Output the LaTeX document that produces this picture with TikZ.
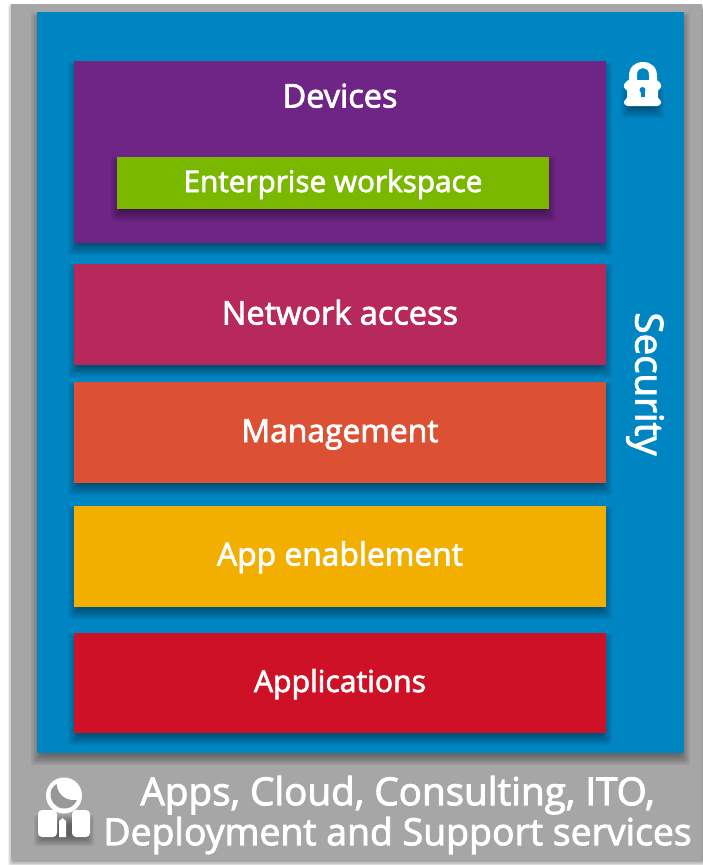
\documentclass[tikz,border=0pt]{standalone}
\usepackage{fontspec}
\setmainfont[FakeBold=2.4]{Open Sans}
\definecolor{cgray}{HTML}{A6A6A6}
\definecolor{cgrayd}{HTML}{989898}
\definecolor{cblue}{HTML}{0085C3}
\definecolor{cpurple}{HTML}{6E2585}
\definecolor{cgreen}{HTML}{7AB800}
\definecolor{ccrim}{HTML}{B7295A}
\definecolor{corange}{HTML}{DC5034}
\definecolor{cyellow}{HTML}{F2AF00}
\definecolor{cred}{HTML}{CE1126}
\tikzset{
  block/.style={inner sep=0pt,outer sep=0pt,text=white,align=center},
  blocklabel/.style={block,text height=22pt,text depth=7pt},
  softlayer/.style={fill=black,fill opacity=0.055,draw=none,rounded corners=2pt},
  iconwhite/.style={fill=white,draw=none},
}
% soft shadow: #1..#4 = x0,y0,x1,y1 ; #5 = drop and spread
\newcommand{\softshadow}[5]{%
  \foreach \k in {0,...,8}{%
    \pgfmathsetmacro{\e}{#5*(1-\k/4)}%
    \fill[softlayer] (#1-\e,#2-\e+#5) rectangle (#3+\e,#4+\e+#5);
  }}
\newcommand{\blockbox}[9]{% name x0 y0 x1 y1 colour fontsize dy text
  \softshadow{#2}{#3}{#4}{#5}{6}
  \fill[#6] (#2,#3) rectangle (#4,#5);
  \node[blocklabel,font=\fontsize{#7}{#7}\selectfont] (#1) at ({(#2+#4)/2},{(#3+#5)/2+#8}) {#9};
}
\begin{document}
\begin{tikzpicture}[x=1pt,y=-1pt]
\useasboundingbox (0,0) rectangle (702,865);
\fill[white] (0,0) rectangle (702,865);
\softshadow{11}{4}{712}{860}{3}
\fill[cgray] (11,4) rectangle (702,860);
\softshadow{37}{12}{684}{753}{6}
\fill[cblue] (37,12) rectangle (684,753);
\softshadow{74}{61}{606}{243}{6}
\fill[cpurple] (74,61) rectangle (606,243);
\node[blocklabel,font=\fontsize{32.5}{32.5}\selectfont] (devices) at (340,100) {Devices};
\blockbox{ews}{117}{157}{549}{209}{cgreen}{29.7}{1.5}{Enterprise workspace}
\blockbox{net}{74}{264}{606}{365}{ccrim}{32.5}{2.5}{Network access}
\blockbox{mgmt}{74}{382}{606}{483}{corange}{31.8}{2}{Management}
\blockbox{appen}{74}{506}{606}{607}{cyellow}{31.8}{1.5}{App enablement}
\blockbox{apps}{74}{633}{606}{733}{cred}{30.2}{1.5}{Applications}
\node[block,rotate=-90,font=\fontsize{38.5}{38.5}\selectfont] (sec) at (645,384) {Security};
\node[block,font=\fontsize{37.8}{40}\selectfont] (svc) at (397.5,815) {\fontsize{38.6}{40}\selectfont Apps, Cloud, Consulting, ITO,\\\fontsize{37.4}{40}\selectfont Deployment and Support services};
% lock
\softshadow{627}{88}{658}{106}{6}
\fill[iconwhite,even odd rule]
 (629,84) -- (629,76) .. controls (629,67) and (635,62) .. (643,62) .. controls (651,62) and (657,67) .. (657,76) -- (657,84) -- cycle
 (637,84) -- (637,75) .. controls (637,70) and (640,68) .. (643,68) .. controls (646,68) and (649,70) .. (649,75) -- (649,84) -- cycle;
\fill[iconwhite,rounded corners=1pt] (628,80) -- (657,80) -- (661,84) -- (661,88) -- (658,90) -- (658,98) -- (661,101) -- (661,104) -- (658,106) -- (627,106) -- (624,104) -- (624,101) -- (627,98) -- (627,90) -- (624,88) -- (624,84) -- cycle;
\fill[cblue] (642.5,90) circle (3);
\fill[cblue] (640.5,90) rectangle (644.5,97);
% person
\softshadow{39}{815}{89}{836}{5}
\fill[iconwhite] (64,795.5) circle (18);
\fill[cgrayd] (56.5,784) .. controls (47,790) and (49,803) .. (60,808) .. controls (68,810) and (75,806) .. (77,800) .. controls (68,801) and (58,797) .. cycle;
\fill[iconwhite,rounded corners=4pt] (38,837) -- (38,810) -- (57,810) -- (57,837) -- cycle;
\fill[iconwhite,rounded corners=4pt] (72,837) -- (72,810) -- (90,810) -- (90,837) -- cycle;
\fill[iconwhite] (59,837) -- (59,821) -- (62.5,818) -- (66,821) -- (66,837) -- cycle;
\end{tikzpicture}
\end{document}
